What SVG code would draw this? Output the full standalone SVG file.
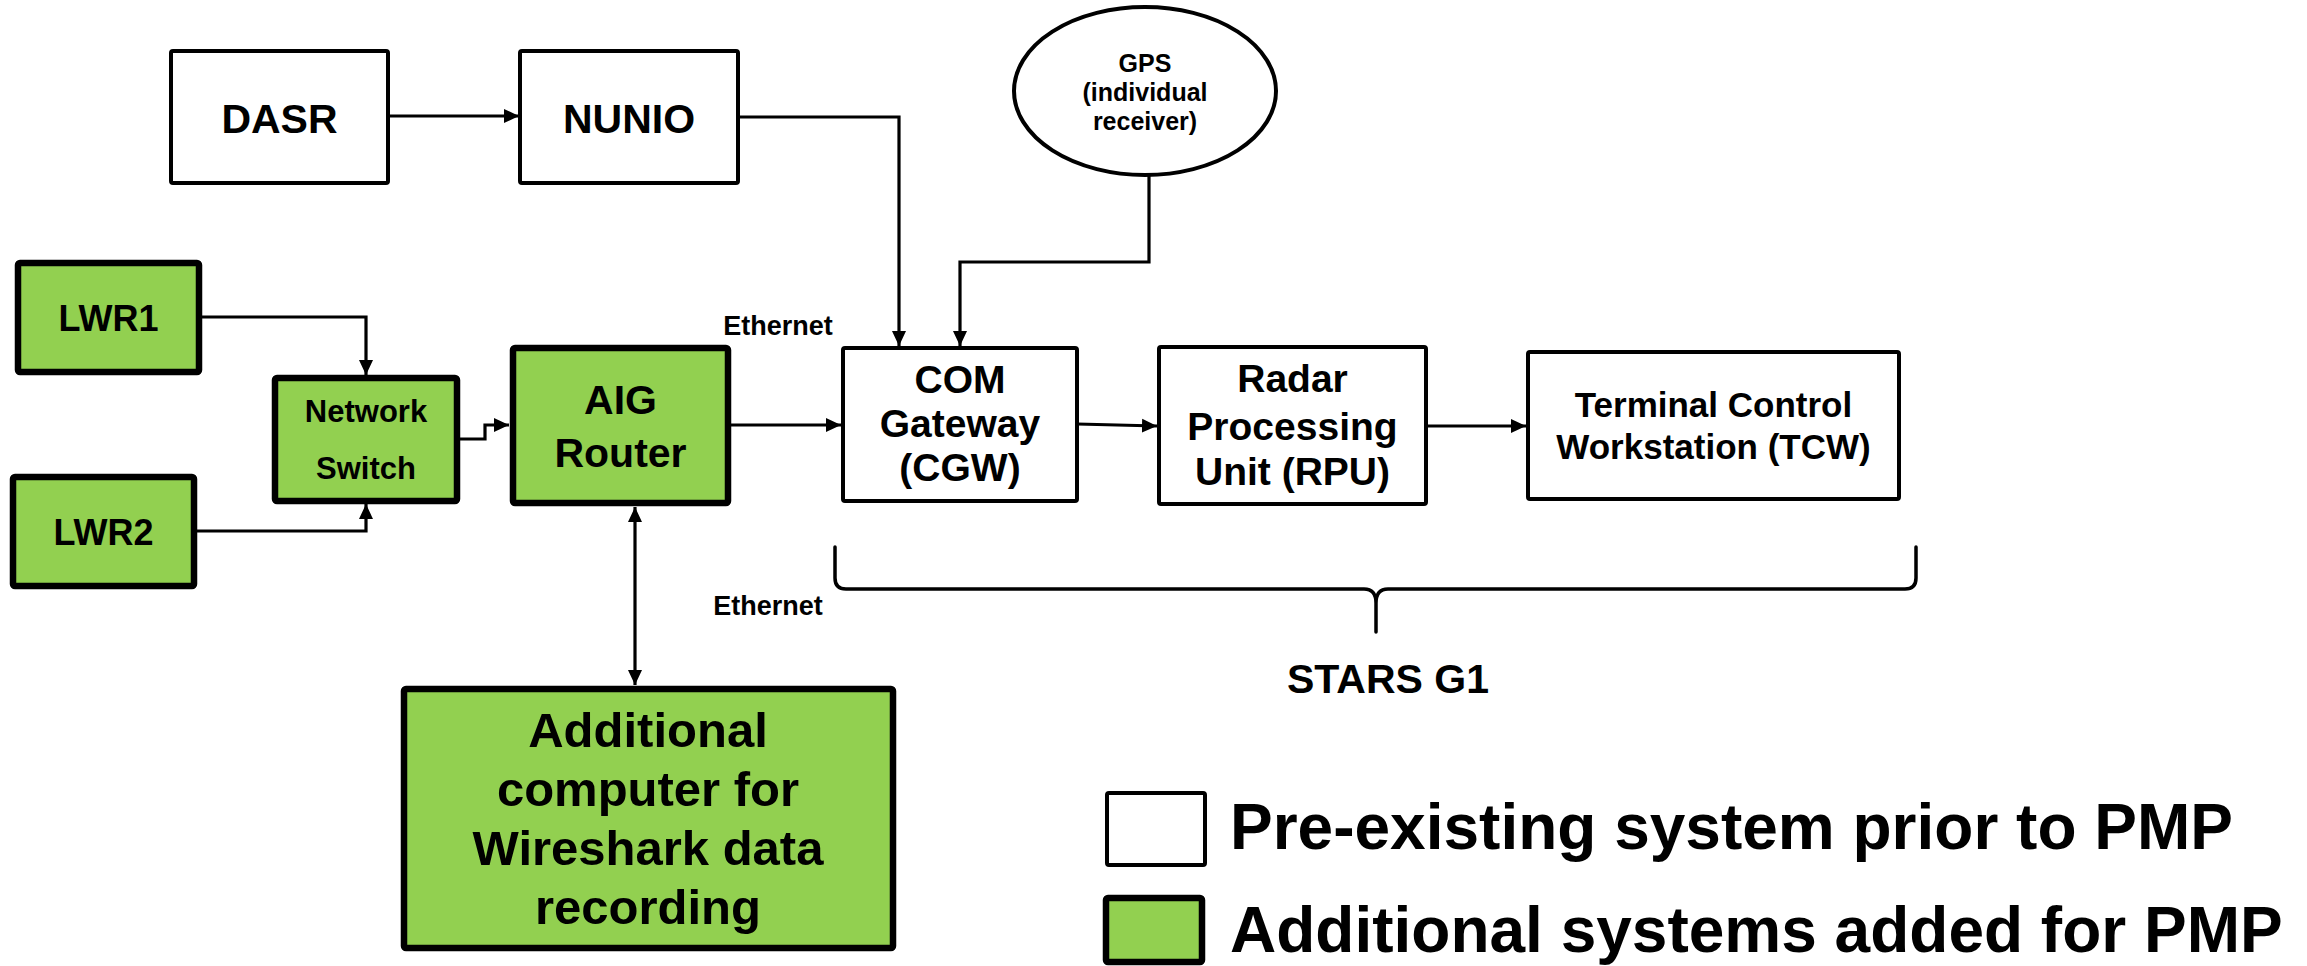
<svg xmlns="http://www.w3.org/2000/svg" width="2307" height="966" viewBox="0 0 2307 966">
  <style>
    .plain { fill: #ffffff; stroke: #000000; stroke-width: 4; }
    .added { fill: #92d050; stroke: #000000; stroke-width: 6.5; }
    .wire { fill: none; stroke: #000000; stroke-width: 3.2; }
    .brace { fill: none; stroke: #000000; stroke-width: 3.5; stroke-linejoin: round; stroke-linecap: round; }
    text { font-family: "Liberation Sans", Arial, Helvetica, sans-serif; font-weight: bold; fill: #000000; }
    .mid { text-anchor: middle; }
  </style>
  <defs>
    <marker id="head" markerUnits="userSpaceOnUse" markerWidth="16" markerHeight="16" viewBox="0 0 16 16" refX="15" refY="8" orient="auto-start-reverse">
      <path d="M0,1 L15,8 L0,15 Z" fill="#000000"/>
    </marker>
  </defs>

  <!-- connectors -->
  <g id="connectors">
    <path class="wire" d="M388,116 H519" marker-end="url(#head)"/>
    <path class="wire" d="M738,117 H899 V346" marker-end="url(#head)"/>
    <path class="wire" d="M1149,175 V262 H960 V346" marker-end="url(#head)"/>
    <path class="wire" d="M199,317 H366 V375" marker-end="url(#head)"/>
    <path class="wire" d="M194,531 H366 V504" marker-end="url(#head)"/>
    <path class="wire" d="M457,439 H485 V425 H509" marker-end="url(#head)"/>
    <path class="wire" d="M729,425 H841" marker-end="url(#head)"/>
    <path class="wire" d="M1077,424 L1157,426" marker-end="url(#head)"/>
    <path class="wire" d="M1426,426 H1526" marker-end="url(#head)"/>
    <path class="wire" d="M635,507 V685" marker-start="url(#head)" marker-end="url(#head)"/>
  </g>

  <!-- labels on links -->
  <text x="778" y="335" class="mid" font-size="27">Ethernet</text>
  <text x="768" y="615" class="mid" font-size="27">Ethernet</text>

  <!-- top row -->
  <g id="dasr">
    <rect class="plain" x="171" y="51" width="217" height="132" rx="2"/>
    <text x="279.5" y="133" class="mid" font-size="41">DASR</text>
  </g>
  <g id="nunio">
    <rect class="plain" x="520" y="51" width="218" height="132" rx="2"/>
    <text x="629" y="133" class="mid" font-size="41">NUNIO</text>
  </g>
  <g id="gps">
    <ellipse class="plain" cx="1145" cy="91" rx="131" ry="84"/>
    <text x="1145" y="72" class="mid" font-size="25">GPS</text>
    <text x="1145" y="101" class="mid" font-size="25">(individual</text>
    <text x="1145" y="130" class="mid" font-size="25">receiver)</text>
  </g>

  <!-- added hardware -->
  <g id="lwr1">
    <rect class="added" x="18" y="263" width="181" height="109" rx="2"/>
    <text x="108.5" y="331" class="mid" font-size="36">LWR1</text>
  </g>
  <g id="lwr2">
    <rect class="added" x="13" y="477" width="181" height="109" rx="2"/>
    <text x="103.5" y="545" class="mid" font-size="36">LWR2</text>
  </g>
  <g id="network-switch">
    <rect class="added" x="275" y="378" width="182" height="123" rx="2"/>
    <text x="366" y="422" class="mid" font-size="31">Network</text>
    <text x="366" y="479" class="mid" font-size="31">Switch</text>
  </g>
  <g id="aig-router">
    <rect class="added" x="513" y="348" width="215" height="155" rx="2"/>
    <text x="620.5" y="414" class="mid" font-size="41">AIG</text>
    <text x="620.5" y="467" class="mid" font-size="41">Router</text>
  </g>
  <g id="wireshark-pc">
    <rect class="added" x="404" y="689" width="489" height="259" rx="2"/>
    <text x="648" y="747" class="mid" font-size="49">Additional</text>
    <text x="648" y="806" class="mid" font-size="49">computer for</text>
    <text x="648" y="865" class="mid" font-size="49">Wireshark data</text>
    <text x="648" y="924" class="mid" font-size="49">recording</text>
  </g>

  <!-- STARS G1 -->
  <g id="cgw">
    <rect class="plain" x="843" y="348" width="234" height="153" rx="2"/>
    <text x="960" y="393" class="mid" font-size="39">COM</text>
    <text x="960" y="437" class="mid" font-size="39">Gateway</text>
    <text x="960" y="481" class="mid" font-size="39">(CGW)</text>
  </g>
  <g id="rpu">
    <rect class="plain" x="1159" y="347" width="267" height="157" rx="2"/>
    <text x="1292.5" y="392" class="mid" font-size="39">Radar</text>
    <text x="1292.5" y="440" class="mid" font-size="39">Processing</text>
    <text x="1292.5" y="485" class="mid" font-size="39">Unit (RPU)</text>
  </g>
  <g id="tcw">
    <rect class="plain" x="1528" y="352" width="371" height="147" rx="2"/>
    <text x="1713.5" y="417" class="mid" font-size="35">Terminal Control</text>
    <text x="1713.5" y="459" class="mid" font-size="35">Workstation (TCW)</text>
  </g>
  <g id="stars-g1">
    <path class="brace" d="M835,547 V578 Q835,589 846,589 H1364 Q1376,589 1376,603 V632 M1376,603 Q1376,589 1388,589 H1905 Q1916,589 1916,578 V547"/>
    <text x="1388" y="693" class="mid" font-size="41">STARS G1</text>
  </g>

  <!-- legend -->
  <g id="legend">
    <rect class="plain" x="1107" y="793" width="98" height="72" rx="2" stroke-width="5"/>
    <text x="1230" y="849" font-size="64">Pre-existing system prior to PMP</text>
    <rect class="added" x="1106" y="898" width="96" height="64" rx="2"/>
    <text x="1230" y="952" font-size="64">Additional systems added for PMP</text>
  </g>
</svg>
